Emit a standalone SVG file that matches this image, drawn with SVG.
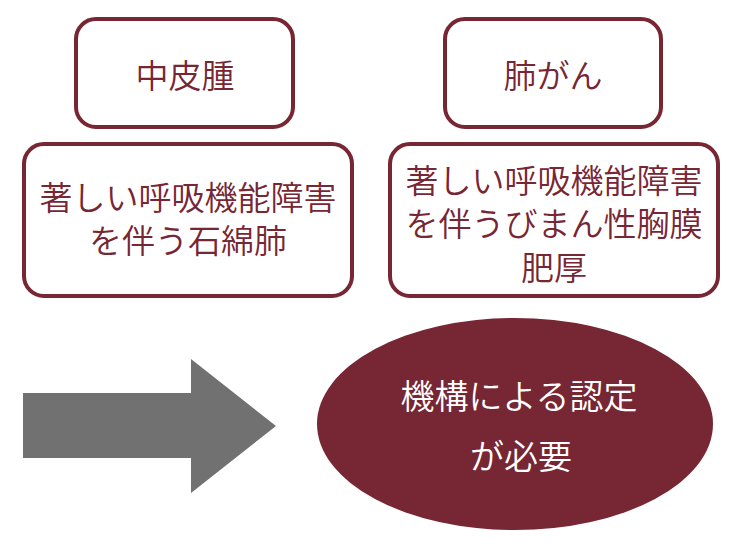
<svg xmlns="http://www.w3.org/2000/svg" width="750" height="557" viewBox="0 0 750 557">
<style>
.box{fill:#ffffff;stroke:#772634;stroke-width:4}
.t{font-family:"Noto Sans CJK JP","Noto Sans CJK SC",sans-serif;font-weight:350;font-size:33px;fill:#772634;text-anchor:middle}
.w{fill:#ffffff;font-size:34px}
</style>
<rect width="750" height="557" fill="#ffffff"/>
<g id="node-mesothelioma">
<rect class="box" x="76" y="19" width="217" height="108" rx="20"/>
<text class="t" x="185" y="87.5">中皮腫</text>
</g>
<g id="node-asbestosis">
<rect class="box" x="24" y="144" width="328" height="152" rx="20"/>
<text class="t" x="188" y="209.5">著しい呼吸機能障害</text>
<text class="t" x="188" y="252.5">を伴う石綿肺</text>
</g>
<g id="node-lungcancer">
<rect class="box" x="445" y="19" width="216" height="108" rx="20"/>
<text class="t" x="553" y="87.5">肺がん</text>
</g>
<g id="node-pleural">
<rect class="box" x="390" y="144" width="328" height="152" rx="20"/>
<text class="t" x="554" y="192.5">著しい呼吸機能障害</text>
<text class="t" x="554" y="236">を伴うびまん性胸膜</text>
<text class="t" x="554" y="279.5">肥厚</text>
</g>
<g id="connectors">
<polygon points="23,393 191,393 191,359 276,426 191,493 191,458 23,458" fill="#717171"/>
</g>
<g id="node-certification">
<ellipse cx="515" cy="424" rx="198" ry="106" fill="#772634"/>
<text class="t w" x="519" y="409">機構による認定</text>
<text class="t w" x="521" y="469">が必要</text>
</g>
</svg>
